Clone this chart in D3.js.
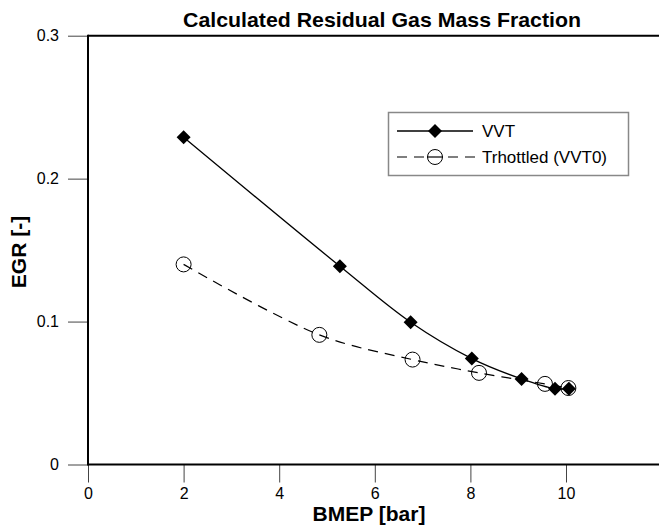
<!DOCTYPE html>
<html>
<head>
<meta charset="utf-8">
<script src="https://cdn.jsdelivr.net/npm/d3@7"></script>
<style>
  html, body { margin: 0; padding: 0; background: #fff; }
  svg { display: block; font-family: "Liberation Sans", Arial, sans-serif; }
</style>
</head>
<body>
<svg id="chart" width="659" height="527"></svg>
<script>
// ---- data ----
const vvtBmep = [2.0, 5.27, 6.75, 8.03, 9.07, 9.77, 10.06];
const vvtEgr  = [0.229, 0.1387, 0.0995, 0.0741, 0.0599, 0.0530, 0.0530];
const thrBmep = [2.0, 4.84, 6.79, 8.18, 9.56, 10.05];
const thrEgr  = [0.140, 0.0907, 0.0734, 0.0641, 0.0564, 0.0535];
const xTicks = [0, 2, 4, 6, 8, 10];
const yTicks = [0, 0.1, 0.2, 0.3];
const seriesNames = ["VVT", "Trhottled (VVT0)"];
const titleText = "Calculated Residual Gas Mass Fraction";
const xLabel = "BMEP [bar]";
const yLabel = "EGR [-]";

const svg = d3.select("#chart");
const x = d3.scaleLinear().domain([0, 12]).range([88, 88 + 47.8 * 12]);
const y = d3.scaleLinear().domain([0, 0.3]).range([464.5, 35.7]);

// title
svg.append("text").attr("x", 382).attr("y", 27).attr("text-anchor", "middle")
  .attr("font-size", 21).attr("font-weight", "bold")
  .attr("textLength", 398).attr("lengthAdjust", "spacingAndGlyphs").text(titleText);

// axes
const xAxis = d3.axisBottom(x).tickValues(xTicks).tickSize(18).tickPadding(5)
  .tickFormat(d3.format("d"));
const gx = svg.append("g").attr("transform", `translate(0,${y(0)})`).call(xAxis);
gx.select(".domain").remove();
gx.selectAll(".tick line").attr("stroke", "#444").attr("stroke-width", 1);
gx.selectAll(".tick text").attr("font-size", 16).attr("fill", "#000")
  .attr("font-family", "Liberation Sans, Arial, sans-serif");

const yAxis = d3.axisLeft(y).tickValues(yTicks).tickSize(20).tickPadding(9)
  .tickFormat(d => d === 0 ? "0" : d3.format(".1f")(d));
const gy = svg.append("g").attr("transform", `translate(${x(0)},0)`).call(yAxis);
gy.select(".domain").remove();
gy.selectAll(".tick line").attr("stroke", "#444").attr("stroke-width", 1);
gy.selectAll(".tick text").attr("font-size", 16).attr("fill", "#000")
  .attr("font-family", "Liberation Sans, Arial, sans-serif");

// frame lines
svg.append("line").attr("x1", x(0)).attr("x2", 659).attr("y1", y(0)).attr("y2", y(0))
  .attr("stroke", "#000").attr("stroke-width", 2);
svg.append("line").attr("x1", x(0)).attr("x2", 659).attr("y1", y(0.3)).attr("y2", y(0.3))
  .attr("stroke", "#000").attr("stroke-width", 2);
svg.append("line").attr("x1", x(0)).attr("x2", x(0)).attr("y1", y(0.3) - 1).attr("y2", y(0) + 1)
  .attr("stroke", "#000").attr("stroke-width", 2);

// axis titles
svg.append("text").attr("x", 369).attr("y", 521).attr("text-anchor", "middle")
  .attr("font-size", 21).attr("font-weight", "bold").text(xLabel);
svg.append("text").attr("transform", "translate(26,252) rotate(-90)").attr("text-anchor", "middle")
  .attr("font-size", 21).attr("font-weight", "bold").text(yLabel);

// lines
const vvt = vvtBmep.map((b, i) => [b, vvtEgr[i]]);
const thr = thrBmep.map((b, i) => [b, thrEgr[i]]);
const line = d3.line().x(d => x(d[0])).y(d => y(d[1])).curve(d3.curveCatmullRom.alpha(0.5));

svg.append("path").attr("d", line(thr)).attr("fill", "none").attr("stroke", "#000")
  .attr("stroke-width", 1.2).attr("stroke-dasharray", "10,7");
svg.append("path").attr("d", line(vvt)).attr("fill", "none").attr("stroke", "#000")
  .attr("stroke-width", 1.3);

const diamond = d3.symbol().type(d3.symbolSquare).size(98);
svg.selectAll(".vvtpt").data(vvt).enter().append("path")
  .attr("d", diamond())
  .attr("transform", d => `translate(${x(d[0])},${y(d[1])}) rotate(45)`)
  .attr("fill", "#000");
svg.selectAll(".thrpt").data(thr).enter().append("circle")
  .attr("cx", d => x(d[0])).attr("cy", d => y(d[1])).attr("r", 7.5)
  .attr("fill", "none").attr("stroke", "#000").attr("stroke-width", 1);

// legend
const lg = svg.append("g");
lg.append("rect").attr("x", 388.5).attr("y", 112.5).attr("width", 240).attr("height", 63)
  .attr("fill", "#fff").attr("stroke", "#888").attr("stroke-width", 1.5);
const rows = [131, 157];
lg.append("line").attr("x1", 397).attr("x2", 473).attr("y1", rows[0]).attr("y2", rows[0])
  .attr("stroke", "#000").attr("stroke-width", 1.3);
lg.append("path").attr("d", diamond()).attr("transform", `translate(435,${rows[0]}) rotate(45)`)
  .attr("fill", "#000");
lg.append("line").attr("x1", 397).attr("x2", 475).attr("y1", rows[1]).attr("y2", rows[1])
  .attr("stroke", "#000").attr("stroke-width", 1.2).attr("stroke-dasharray", "10,7");
lg.append("circle").attr("cx", 435).attr("cy", rows[1]).attr("r", 7.5)
  .attr("fill", "#fff").attr("stroke", "#000").attr("stroke-width", 1);
lg.append("line").attr("x1", 427).attr("x2", 443).attr("y1", rows[1]).attr("y2", rows[1])
  .attr("stroke", "#000").attr("stroke-width", 1.2);
seriesNames.forEach((n, i) => {
  lg.append("text").attr("x", 482).attr("y", rows[i]).attr("dy", "0.35em")
    .attr("font-size", 17).text(n);
});
</script>
</body>
</html>
